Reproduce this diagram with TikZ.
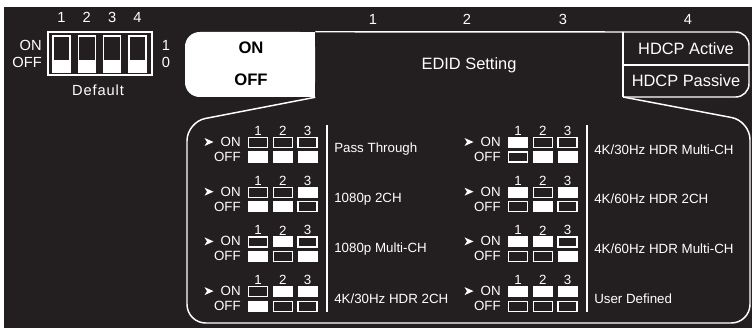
\documentclass[tikz,border=0pt]{standalone}
\usepackage{fontspec}
\setmainfont{Liberation Sans}
\usepackage{tikz}
\definecolor{panelbg}{HTML}{231F20}

\begin{document}
\begin{tikzpicture}[x=0.75pt, y=-0.75pt,
  txt/.style={text=white, inner sep=0pt, font=\fontsize{10}{12}\selectfont},
  toptxt/.style={text=white, inner sep=0pt, font=\fontsize{11}{13}\selectfont},
  bigtxt/.style={text=white, inner sep=0pt, font=\fontsize{12.3}{14}\selectfont},
  cell0/.style={draw=white, line width=0.9pt, minimum width=14.2pt, minimum height=7.5pt, inner sep=0pt},
  cell1/.style={fill=white, minimum width=15pt, minimum height=8.3pt, inner sep=0pt},
  edge/.style={draw=white, line width=1.1pt},]
\useasboundingbox (0,0) rectangle (753,328);
\fill[panelbg] (4,7) rectangle (752,328);
% default dip switch
\node[toptxt, anchor=east] (1) at (42,45) {ON};
\node[toptxt, anchor=east] (2) at (42,62) {OFF};
\node[toptxt] (3) at (166,45) {1};
\node[toptxt] (4) at (166,62) {0};
\node[toptxt, font=\fontsize{11}{13}\selectfont\addfontfeature{LetterSpace=6}] (5) at (98,90) {Default};
\draw[edge, line width=0.9pt] (48,32) rectangle (152,75);
\foreach \i in {1,...,4} {
  \pgfmathsetmacro\sx{61.5+25.3*(\i-1)}
  \node[toptxt] (n\i) at (\sx,17) {\i};
  \draw[white, line width=0.9pt] (\sx-8.5,36) rectangle (\sx+8.5,72);
  \fill[white] (\sx-8.5,60) rectangle (\sx+8.5,72);
}
% header
\node[fill=white, rounded corners=11pt, minimum width=97.5pt, minimum height=48.75pt] (sw) at (250,64.5) {};
\fill[white] (sw.north) rectangle (sw.south east);
\node[inner sep=0pt, font=\fontsize{12.5}{14}\selectfont\bfseries] (on) at (251,48) {ON};
\node[inner sep=0pt, font=\fontsize{12.5}{14}\selectfont\bfseries] (off) at (251,80) {OFF};
\node[toptxt] (c1) at (373,19) {1};
\node[toptxt] (c2) at (467,19) {2};
\node[toptxt] (c3) at (563,19) {3};
\node[toptxt] (c4) at (688,19) {4};
\node[bigtxt] (edid) at (469,65) {EDID Setting};
\node[bigtxt] (ha) at (686,48.5) {HDCP Active};
\node[bigtxt] (hp) at (686,81) {HDCP Passive};
\coordinate (h1) at (623,32);
\coordinate (h2) at (623,97);
\draw[edge] (sw.north east) -- (h1);
\draw[edge, rounded corners=10pt] (h1) -- (749,32) -- (749,97) -- (h2);
\draw[edge] (h1) -- (h2);
\draw[edge] (623,65) -- (749,65);
% panel
\draw[edge, rounded corners=14pt] (sw.south east) -- (187,122) -- (187,323) -- (750,323) -- (750,121) -- (h2);
\draw[edge, line width=0.9pt] (327,125) -- (327,312);
\draw[edge, line width=0.9pt] (587,125) -- (587,312);
\foreach \v/\name in {0/Pass Through, 1/1080p 2CH, 2/1080p Multi-CH, 3/{4K/30Hz HDR 2CH},
    4/{4K/30Hz HDR Multi-CH}, 5/{4K/60Hz HDR 2CH}, 6/{4K/60Hz HDR Multi-CH}, 7/User Defined} {
  \pgfmathsetmacro\ox{260*floor(\v/4)}
  \pgfmathsetmacro\oy{49.7*mod(\v,4)}
  \begin{scope}[shift={(\ox,\oy)}]
  \fill[white] (204.5,138) -- (213.5,142) -- (204.5,146) -- (207,142) -- cycle;
  \node[txt, anchor=east] (on\v) at (241,142) {ON};
  \node[txt, anchor=east] (off\v) at (241,157) {OFF};
  \foreach \j in {1,2,3} {
    \pgfmathsetmacro\cx{258+24.75*(\j-1)}
    \pgfmathtruncatemacro\b{mod(floor(\v/2^(3-\j)),2)}
    \pgfmathtruncatemacro\nb{1-\b}
    \node[txt] (num\v\j) at (\cx,131) {\j};
    \node[cell\b] (u\v\j) at (\cx,142.5) {};
    \node[cell\nb] (d\v\j) at (\cx,157) {};
  }
  \node[txt, anchor=west] (lbl\v) at (334,149.5) {\name};
  \end{scope}
}
\end{tikzpicture}
\end{document}
